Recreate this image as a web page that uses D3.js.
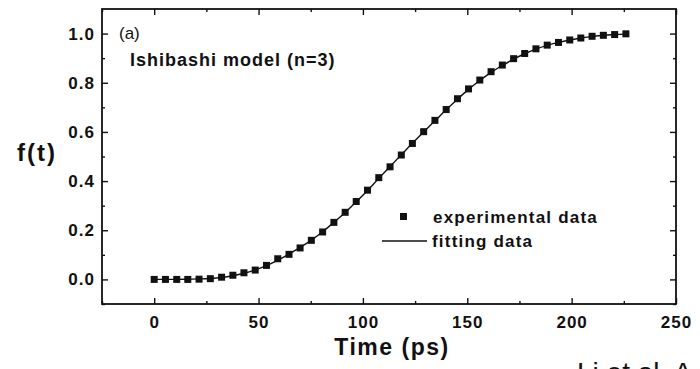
<!DOCTYPE html>
<html>
<head>
<meta charset="utf-8">
<script src="https://cdn.jsdelivr.net/npm/d3@7"></script>
<style>
  html, body { margin: 0; padding: 0; background: #fff; }
  svg { display: block; }
  text { font-family: "Liberation Sans", Arial, sans-serif; fill: #111; }
</style>
</head>
<body>
<svg id="chart" width="700" height="369"></svg>
<script>
// Measured crystallized fraction vs time (ps)
const timePs = [0, 5.4, 10.8, 16.1, 21.5, 26.9, 32.3, 37.7, 43.0, 48.4,
  53.8, 59.2, 64.6, 69.9, 75.3, 80.7, 86.1, 91.5, 96.8, 102.2,
  107.6, 113.0, 118.4, 123.7, 129.1, 134.5, 139.9, 145.3, 150.6, 156.0,
  161.4, 166.8, 172.2, 177.5, 182.9, 188.3, 193.7, 199.1, 204.4, 209.8,
  215.2, 220.6, 226.0];
const experimental = [0.000, 0.000, 0.000, 0.000, 0.001, 0.003, 0.009, 0.017, 0.027, 0.038,
  0.057, 0.084, 0.102, 0.128, 0.159, 0.193, 0.232, 0.273, 0.317, 0.363,
  0.414, 0.458, 0.506, 0.553, 0.601, 0.647, 0.691, 0.735, 0.775, 0.811,
  0.845, 0.872, 0.898, 0.919, 0.938, 0.953, 0.964, 0.974, 0.982, 0.989,
  0.993, 0.996, 0.999];
// Ishibashi model fit (n = 3), evaluated at the same times
const fitting = [0.000, 0.000, 0.000, 0.001, 0.002, 0.004, 0.008, 0.015, 0.025, 0.039,
  0.056, 0.078, 0.103, 0.130, 0.160, 0.194, 0.232, 0.272, 0.316, 0.362,
  0.411, 0.459, 0.507, 0.554, 0.600, 0.645, 0.690, 0.733, 0.773, 0.809,
  0.842, 0.870, 0.896, 0.918, 0.937, 0.952, 0.964, 0.974, 0.982, 0.988,
  0.993, 0.996, 0.998];

const xTicks = [0, 50, 100, 150, 200, 250];
const xMinorTicks = [-25, 25, 75, 125, 175, 225];
const yTicks = [0.0, 0.2, 0.4, 0.6, 0.8, 1.0];
const yMinorTicks = [-0.1, 0.1, 0.3, 0.5, 0.7, 0.9];

const svg = d3.select("#chart");
const m = { left: 102, right: 676, top: 9, bottom: 304 };

const x = d3.scaleLinear().domain([-25, 250]).range([m.left, m.right]);
const y = d3.scaleLinear().domain([-0.1, 1.1]).range([m.bottom, m.top]);

const ink = "#111";
const font = "Liberation Sans, Arial, sans-serif";

// Mirrored axes with inward ticks
function axisGroup(axisFn, scale, ticks, size, transform, labels) {
  const a = axisFn(scale).tickValues(ticks).tickSizeInner(size).tickSizeOuter(0)
    .tickPadding(labels ? 6 : 0);
  if (labels) a.tickFormat(labels); else a.tickFormat("");
  const g = svg.append("g").attr("transform", transform).call(a);
  g.select(".domain").remove();
  g.selectAll(".tick line").attr("stroke", ink).attr("stroke-width", 1.4);
  return g;
}

// Bottom
const gxb = axisGroup(d3.axisBottom, x, xTicks, -6, `translate(0,${m.bottom})`, d3.format("d"));
gxb.selectAll("text").attr("font-size", 17).attr("font-weight", "bold")
  .attr("font-family", font).attr("fill", ink).attr("letter-spacing", 1)
  .attr("dy", "1.05em");
axisGroup(d3.axisBottom, x, xMinorTicks, -3, `translate(0,${m.bottom})`, null);
// Top
axisGroup(d3.axisTop, x, xTicks, -6, `translate(0,${m.top})`, null);
axisGroup(d3.axisTop, x, xMinorTicks, -3, `translate(0,${m.top})`, null);
// Left
const gyl = axisGroup(d3.axisLeft, y, yTicks, -6, `translate(${m.left},0)`, d3.format(".1f"));
gyl.selectAll("text").attr("font-size", 17).attr("font-weight", "bold")
  .attr("font-family", font).attr("fill", ink).attr("letter-spacing", 1)
  .attr("x", -7);
axisGroup(d3.axisLeft, y, yMinorTicks, -3, `translate(${m.left},0)`, null);
// Right
axisGroup(d3.axisRight, y, yTicks, -6, `translate(${m.right},0)`, null);
axisGroup(d3.axisRight, y, yMinorTicks, -3, `translate(${m.right},0)`, null);

// Frame
svg.append("rect")
  .attr("x", m.left).attr("y", m.top)
  .attr("width", m.right - m.left).attr("height", m.bottom - m.top)
  .attr("fill", "none").attr("stroke", ink).attr("stroke-width", 1.8);

// Fitted curve
const fitPts = timePs.map((t, i) => [t, fitting[i]]);
svg.append("path")
  .datum(fitPts)
  .attr("fill", "none").attr("stroke", ink).attr("stroke-width", 1.4)
  .attr("d", d3.line().x(d => x(d[0])).y(d => y(d[1])).curve(d3.curveMonotoneX));

// Experimental points
const sq = 7;
svg.append("g").selectAll("rect")
  .data(timePs.map((t, i) => [t, experimental[i]]))
  .join("rect")
  .attr("x", d => x(d[0]) - sq / 2).attr("y", d => y(d[1]) - sq / 2)
  .attr("width", sq).attr("height", sq).attr("fill", ink);

// Axis titles
svg.append("text").attr("x", 392).attr("y", 355)
  .attr("text-anchor", "middle").attr("font-size", 23).attr("font-weight", "bold")
  .attr("letter-spacing", 1.5).text("Time (ps)");
svg.append("text").attr("x", 17).attr("y", 161)
  .attr("font-size", 24).attr("font-weight", "bold").attr("letter-spacing", 2).text("f(t)");

// Panel annotations
svg.append("text").attr("x", 119).attr("y", 39).attr("font-size", 17).text("(a)");
svg.append("text").attr("x", 130).attr("y", 66).attr("font-size", 18)
  .attr("font-weight", "bold").attr("letter-spacing", 1).text("Ishibashi model (n=3)");

// Legend
svg.append("rect").attr("x", 400).attr("y", 213).attr("width", 7).attr("height", 7).attr("fill", ink);
svg.append("text").attr("x", 433).attr("y", 223).attr("font-size", 17)
  .attr("font-weight", "bold").attr("letter-spacing", 1.2).text("experimental data");
svg.append("line").attr("x1", 382).attr("x2", 427).attr("y1", 241).attr("y2", 241)
  .attr("stroke", ink).attr("stroke-width", 1.4);
svg.append("text").attr("x", 432).attr("y", 247).attr("font-size", 17)
  .attr("font-weight", "bold").attr("letter-spacing", 1.2).text("fitting data");

// Source credit, partly below the lower edge
svg.append("text").attr("x", 577).attr("y", 382).attr("font-size", 28)
  .text("Li et al. A");
</script>
</body>
</html>
